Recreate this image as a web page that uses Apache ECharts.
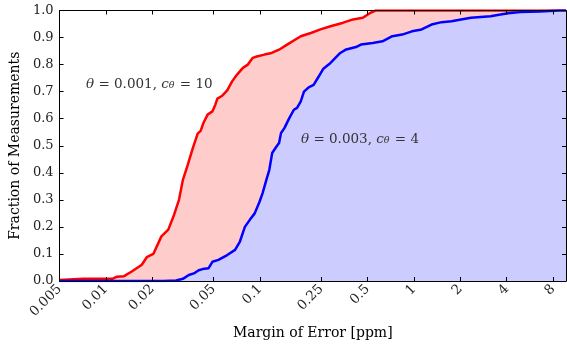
<!DOCTYPE html>
<html>
<head>
<meta charset="utf-8">
<script src="https://cdn.jsdelivr.net/npm/echarts@6/dist/echarts.min.js"></script>
<style>
    html, body { margin: 0; padding: 0; background: #ffffff; }
    #chart { width: 567px; height: 347px; }
</style>
</head>
<body>
<div id="chart"></div>
<script>
// margin of error [ppm] and cumulative fraction, theta = 0.001, c = 10
const redX = [0.005, 0.0071, 0.0110, 0.0118, 0.0131, 0.0147, 0.0171, 0.0184, 0.0203, 0.0229,
    0.0254, 0.0277, 0.0298, 0.0316, 0.034, 0.0366, 0.0394, 0.0412, 0.043, 0.0457,
    0.0491, 0.0513, 0.0529, 0.0569, 0.0613, 0.0659, 0.071, 0.0775, 0.0834, 0.0898,
    0.0952, 0.107, 0.119, 0.133, 0.150, 0.184, 0.214, 0.247, 0.287, 0.347,
    0.402, 0.465, 0.516, 0.563, 9.7]
const redY = [0.004, 0.008, 0.008, 0.016, 0.018, 0.035, 0.06, 0.088, 0.10, 0.165,
    0.19, 0.245, 0.30, 0.374, 0.43, 0.49, 0.545, 0.555, 0.585, 0.615,
    0.627, 0.652, 0.674, 0.685, 0.705, 0.738, 0.763, 0.788, 0.80, 0.825,
    0.83, 0.837, 0.843, 0.855, 0.874, 0.905, 0.917, 0.93, 0.942, 0.955,
    0.967, 0.973, 0.99, 1.0, 1.0]

// theta = 0.003, c = 4
const blueX = [0.005, 0.0236, 0.0285, 0.0316, 0.0345, 0.0372, 0.040, 0.0424, 0.0463, 0.0491,
    0.0537, 0.0613, 0.0689, 0.0741, 0.0798, 0.0859, 0.0924, 0.0995, 0.104, 0.110,
    0.115, 0.120, 0.128, 0.133, 0.137, 0.144, 0.155, 0.166, 0.174, 0.184,
    0.193, 0.207, 0.223, 0.240, 0.258, 0.287, 0.332, 0.363, 0.420, 0.452,
    0.539, 0.624, 0.723, 0.837, 0.970, 1.12, 1.30, 1.51, 1.75, 2.02,
    2.34, 2.71, 3.14, 3.64, 4.09, 4.88, 6.55, 8.79, 9.7]
const blueY = [0, 0, 0.002, 0.008, 0.022, 0.028, 0.04, 0.044, 0.047, 0.071,
    0.078, 0.096, 0.115, 0.146, 0.20, 0.226, 0.25, 0.294, 0.325, 0.374,
    0.411, 0.473, 0.497, 0.51, 0.547, 0.565, 0.602, 0.633, 0.64, 0.664,
    0.70, 0.716, 0.725, 0.755, 0.785, 0.806, 0.843, 0.856, 0.865, 0.874,
    0.88, 0.886, 0.905, 0.911, 0.923, 0.93, 0.948, 0.957, 0.96, 0.967,
    0.973, 0.976, 0.979, 0.985, 0.99, 0.994, 0.996, 1.0, 1.0]

const xTicks = [0.005, 0.01, 0.02, 0.05, 0.1, 0.25, 0.5, 1, 2, 4, 8]
const xTickLabels = ['0.005', '0.01', '0.02', '0.05', '0.1', '0.25', '0.5', '1', '2', '4', '8']
const xMin = 0.005
const xMax = 9.7

// x axis is drawn in log10 space
const lg = v => Math.log10(v)
const tickPos = xTicks.map(lg)

function tickLabel(v) {
    let best = 0
    tickPos.forEach((p, i) => {
        if (Math.abs(p - v) < Math.abs(tickPos[best] - v)) best = i
    })
    return xTickLabels[best]
}

const serif = 'DejaVu Serif'

const chart = echarts.init(document.getElementById('chart'))

const baseX = {
    type: 'value',
    min: lg(xMin),
    max: lg(xMax),
    z: 5,
    splitLine: { show: false },
    axisLine: { onZero: false, lineStyle: { color: '#000', width: 1 } },
    axisTick: { inside: true, length: 4, customValues: tickPos, lineStyle: { color: '#000' } }
}
const baseY = {
    type: 'value',
    min: 0,
    max: 1,
    interval: 0.1,
    z: 5,
    splitLine: { show: false },
    axisLine: { show: true, onZero: false, lineStyle: { color: '#000', width: 1 } },
    axisTick: { show: true, inside: true, length: 4, lineStyle: { color: '#000' } }
}

const richText = {
    it: { fontFamily: serif, fontStyle: 'italic', fontSize: 13.5, fill: '#333' },
    sub: { fontFamily: serif, fontStyle: 'italic', fontSize: 9.5, fill: '#333', verticalAlign: 'bottom', padding: [0, 1, 0, 0] }
}

const option = {
    animation: false,
    backgroundColor: '#ffffff',
    grid: { left: 51, right: 1, top: 10.5, bottom: 66, containLabel: false },
    xAxis: [
        Object.assign({}, baseX, {
            position: 'bottom',
            name: 'Margin of Error [ppm]',
            nameLocation: 'middle',
            nameGap: 45,
            nameTextStyle: { fontFamily: serif, fontSize: 14, color: '#000' },
            axisLabel: {
                customValues: tickPos,
                rotate: 45,
                margin: 6,
                fontFamily: serif,
                fontSize: 13.5,
                color: '#222',
                formatter: tickLabel
            }
        }),
        Object.assign({}, baseX, {
            position: 'top',
            axisLabel: { show: false }
        })
    ],
    yAxis: [
        Object.assign({}, baseY, {
            position: 'left',
            name: 'Fraction of Measurements',
            nameLocation: 'middle',
            nameGap: 36,
            nameRotate: 90,
            nameTextStyle: { fontFamily: serif, fontSize: 14, color: '#000' },
            axisLabel: {
                margin: 6,
                fontFamily: serif,
                fontSize: 13,
                color: '#222',
                formatter: v => v.toFixed(1)
            }
        }),
        Object.assign({}, baseY, {
            position: 'right',
            axisLabel: { show: false }
        })
    ],
    graphic: [
        {
            type: 'text',
            x: 86,
            y: 84,
            z: 10,
            style: {
                text: '{it|θ} = 0.001, {it|c}{sub|θ} = 10',
                fontFamily: serif,
                fontSize: 13.5,
                fill: '#333',
                verticalAlign: 'middle',
                rich: richText
            }
        },
        {
            type: 'text',
            x: 301,
            y: 139,
            z: 10,
            style: {
                text: '{it|θ} = 0.003, {it|c}{sub|θ} = 4',
                fontFamily: serif,
                fontSize: 13.5,
                fill: '#333',
                verticalAlign: 'middle',
                rich: richText
            }
        }
    ],
    series: [
        {
            name: 'theta 0.001',
            type: 'line',
            data: redX.map((x, i) => [lg(x), redY[i]]),
            showSymbol: false,
            symbol: 'none',
            clip: true,
            z: 2,
            lineStyle: { color: '#ff0000', width: 2.5 },
            areaStyle: { color: '#ffcccc', opacity: 1 }
        },
        {
            name: 'theta 0.003',
            type: 'line',
            data: blueX.map((x, i) => [lg(x), blueY[i]]),
            showSymbol: false,
            symbol: 'none',
            clip: true,
            z: 3,
            lineStyle: { color: '#0000ff', width: 2.5 },
            areaStyle: { color: '#ccccff', opacity: 1 }
        }
    ]
}

chart.setOption(option)
</script>
</body>
</html>
